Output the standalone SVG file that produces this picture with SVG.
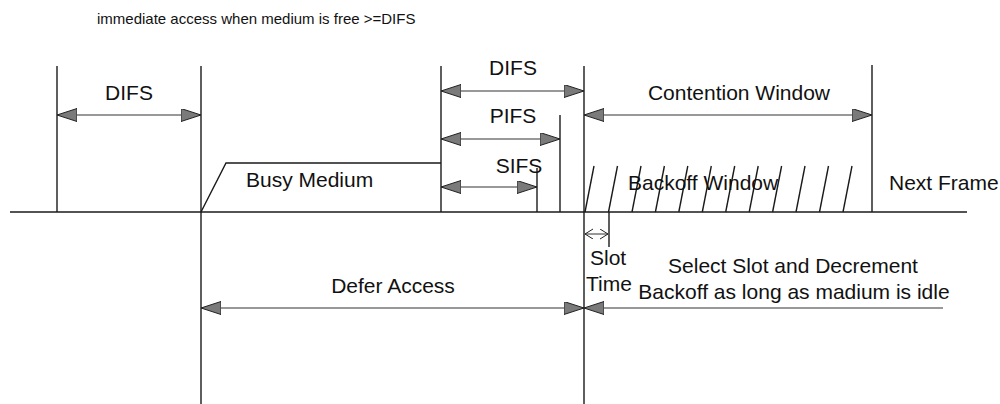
<svg xmlns="http://www.w3.org/2000/svg" width="1000" height="404" viewBox="0 0 1000 404">
  <style>
    .ln { stroke: #1a1a1a; stroke-width: 1.4; fill: none; }
    .dim { stroke: #333; stroke-width: 1.2; fill: none; }
    .arr { marker-start: url(#head); marker-end: url(#head); }
    .lbl { font-family: "Liberation Sans", Arial, sans-serif; font-size: 21px; fill: #111; }
    .ttl { font-family: "Liberation Sans", Arial, sans-serif; font-size: 15px; fill: #111; }
    .mid { text-anchor: middle; }
  </style>
  <defs>
    <marker id="head" markerUnits="userSpaceOnUse" markerWidth="22" markerHeight="15" refX="20" refY="6.5" orient="auto-start-reverse">
      <path d="M0,0 L20,6.5 L0,13 Z" fill="#7a7a7a" stroke="#222" stroke-width="1"/>
    </marker>
    <marker id="thin" markerUnits="userSpaceOnUse" markerWidth="10" markerHeight="12" refX="8" refY="5" orient="auto-start-reverse">
      <path d="M0,0 L8,5 L0,10" fill="none" stroke="#222" stroke-width="1"/>
    </marker>
  </defs>
  <rect width="1000" height="404" fill="#fff"/>

  <text id="title" class="ttl" x="97" y="24">immediate access when medium is free &gt;=DIFS</text>

  <!-- time axis and boundary lines -->
  <g id="axis">
    <line class="ln" x1="10" y1="212" x2="967" y2="212"/>
    <line class="ln" x1="57" y1="66" x2="57" y2="212"/>
    <line class="ln" x1="201" y1="66" x2="201" y2="404"/>
    <line class="ln" x1="441" y1="66" x2="441" y2="212"/>
    <line class="ln" x1="537" y1="168" x2="537" y2="212"/>
    <line class="ln" x1="560" y1="115" x2="560" y2="212"/>
    <line class="ln" x1="584" y1="66" x2="584" y2="404"/>
    <line class="ln" x1="609" y1="212" x2="609" y2="247"/>
    <line class="ln" x1="872" y1="65" x2="872" y2="212"/>
  </g>

  <!-- busy medium frame -->
  <g id="busy-medium">
    <polyline class="ln" points="201,212 226,163 441,163"/>
    <text class="lbl" x="246" y="187">Busy Medium</text>
  </g>

  <!-- backoff slots -->
  <g id="backoff-window">
    <g class="ln">
      <line x1="585" y1="212" x2="594" y2="166"/>
      <line x1="608.5" y1="212" x2="617.5" y2="166"/>
      <line x1="632" y1="212" x2="641" y2="166"/>
      <line x1="655.4" y1="212" x2="664.4" y2="166"/>
      <line x1="678.8" y1="212" x2="687.8" y2="166"/>
      <line x1="702.3" y1="212" x2="711.3" y2="166"/>
      <line x1="725.7" y1="212" x2="734.7" y2="166"/>
      <line x1="749.2" y1="212" x2="758.2" y2="166"/>
      <line x1="772.6" y1="212" x2="781.6" y2="166"/>
      <line x1="796" y1="212" x2="805" y2="166"/>
      <line x1="819.5" y1="212" x2="828.5" y2="166"/>
      <line x1="843" y1="212" x2="852" y2="166"/>
    </g>
    <text class="lbl" x="628" y="190">Backoff Window</text>
  </g>

  <g id="next-frame">
    <text class="lbl" x="889" y="190">Next Frame</text>
  </g>

  <!-- interval dimension arrows -->
  <g id="connectors">
    <line class="dim arr" x1="57" y1="115" x2="201" y2="115"/>
    <line class="dim arr" x1="441" y1="91" x2="584" y2="91"/>
    <line class="dim arr" x1="441" y1="139" x2="560" y2="139"/>
    <line class="dim arr" x1="441" y1="187" x2="537" y2="187"/>
    <line class="dim arr" x1="584" y1="115" x2="872" y2="115"/>
    <line class="dim arr" x1="201" y1="308" x2="584" y2="308"/>
    <line class="dim" marker-end="url(#head)" x1="943" y1="308" x2="584" y2="308"/>
    <line stroke="#333" stroke-width="1" marker-start="url(#thin)" marker-end="url(#thin)" x1="585" y1="234" x2="608" y2="234"/>
  </g>

  <g id="difs-left"><text class="lbl mid" x="129" y="100">DIFS</text></g>
  <g id="difs-right"><text class="lbl mid" x="513" y="75">DIFS</text></g>
  <g id="pifs"><text class="lbl mid" x="513" y="123">PIFS</text></g>
  <g id="sifs"><text class="lbl mid" x="519" y="173">SIFS</text></g>
  <g id="contention-window"><text class="lbl mid" x="739" y="100">Contention Window</text></g>
  <g id="defer-access"><text class="lbl mid" x="393" y="293">Defer Access</text></g>
  <g id="slot-time">
    <text class="lbl" x="590" y="265">Slot</text>
    <text class="lbl" x="586" y="291">Time</text>
  </g>
  <g id="select-slot">
    <text class="lbl mid" x="793" y="273">Select Slot and Decrement</text>
    <text class="lbl mid" x="794" y="299">Backoff as long as madium is idle</text>
  </g>
</svg>
